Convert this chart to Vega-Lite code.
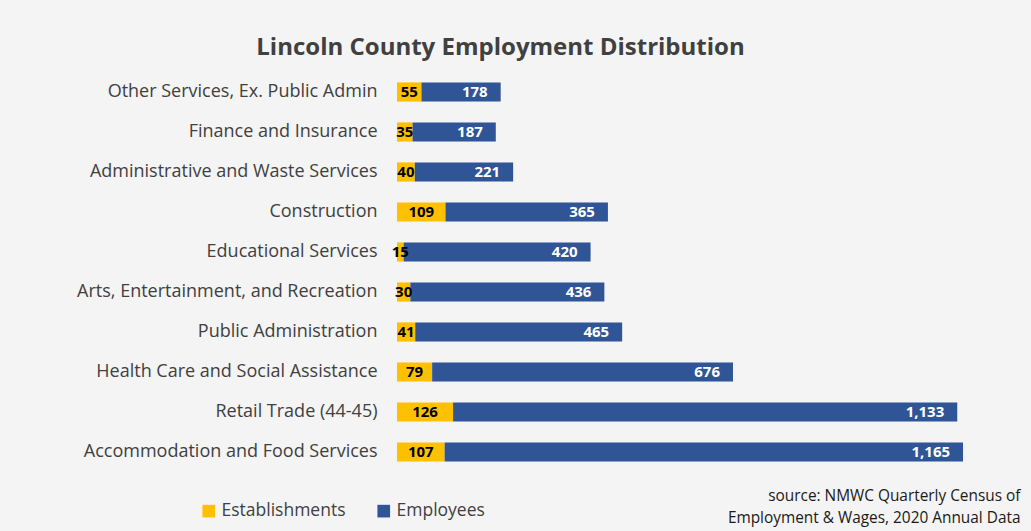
{
  "$schema": "https://vega.github.io/schema/vega-lite/v6.json",
  "autosize": {"type": "none"},
  "width": 623,
  "height": 400,
  "padding": {"left": 397, "top": 72, "right": 11, "bottom": 59},
  "background": "#f4f4f4",
  "title": {
    "text": "Lincoln County Employment Distribution",
    "font": "Open Sans",
    "fontSize": 24,
    "fontWeight": "bold",
    "color": "#404040",
    "anchor": "middle",
    "frame": "group",
    "dx": -208,
    "offset": 12
  },
  "config": {
    "view": {"stroke": null},
    "font": "Open Sans"
  },
  "data": {
    "values": [
      {"industry": "Other Services, Ex. Public Admin", "type": "Establishments", "ord": 0, "value": 55},
      {"industry": "Other Services, Ex. Public Admin", "type": "Employees", "ord": 1, "value": 178},
      {"industry": "Finance and Insurance", "type": "Establishments", "ord": 0, "value": 35},
      {"industry": "Finance and Insurance", "type": "Employees", "ord": 1, "value": 187},
      {"industry": "Administrative and Waste Services", "type": "Establishments", "ord": 0, "value": 40},
      {"industry": "Administrative and Waste Services", "type": "Employees", "ord": 1, "value": 221},
      {"industry": "Construction", "type": "Establishments", "ord": 0, "value": 109},
      {"industry": "Construction", "type": "Employees", "ord": 1, "value": 365},
      {"industry": "Educational Services", "type": "Establishments", "ord": 0, "value": 15},
      {"industry": "Educational Services", "type": "Employees", "ord": 1, "value": 420},
      {"industry": "Arts, Entertainment, and Recreation", "type": "Establishments", "ord": 0, "value": 30},
      {"industry": "Arts, Entertainment, and Recreation", "type": "Employees", "ord": 1, "value": 436},
      {"industry": "Public Administration", "type": "Establishments", "ord": 0, "value": 41},
      {"industry": "Public Administration", "type": "Employees", "ord": 1, "value": 465},
      {"industry": "Health Care and Social Assistance", "type": "Establishments", "ord": 0, "value": 79},
      {"industry": "Health Care and Social Assistance", "type": "Employees", "ord": 1, "value": 676},
      {"industry": "Retail Trade (44-45)", "type": "Establishments", "ord": 0, "value": 126},
      {"industry": "Retail Trade (44-45)", "type": "Employees", "ord": 1, "value": 1133},
      {"industry": "Accommodation and Food Services", "type": "Establishments", "ord": 0, "value": 107},
      {"industry": "Accommodation and Food Services", "type": "Employees", "ord": 1, "value": 1165}
    ]
  },
  "encoding": {
    "y": {
      "field": "industry",
      "type": "nominal",
      "sort": [
        "Other Services, Ex. Public Admin",
        "Finance and Insurance",
        "Administrative and Waste Services",
        "Construction",
        "Educational Services",
        "Arts, Entertainment, and Recreation",
        "Public Administration",
        "Health Care and Social Assistance",
        "Retail Trade (44-45)",
        "Accommodation and Food Services"
      ],
      "scale": {"paddingInner": 0.52, "paddingOuter": 0.26},
      "axis": {
        "title": null,
        "domain": false,
        "ticks": false,
        "labelPadding": 20,
        "labelFont": "Open Sans",
        "labelFontSize": 18,
        "labelColor": "#404040",
        "labelLimit": 400
      }
    }
  },
  "layer": [
    {
      "mark": {"type": "bar"},
      "encoding": {
        "x": {
          "field": "value",
          "type": "quantitative",
          "stack": "zero",
          "scale": {"domain": [0, 1400], "nice": false},
          "axis": {
            "domain": false,
            "ticks": false,
            "labels": false,
            "grid": false,
            "title": ["source: NMWC Quarterly Census of", "Employment & Wages, 2020 Annual Data"],
            "titleFont": "Open Sans",
            "titleFontSize": 15.4,
            "titleFontWeight": "normal",
            "titleColor": "#1a1a1a",
            "titleAlign": "right",
            "titleAnchor": "end",
            "titleBaseline": "top",
            "titleX": 623,
            "titleY": 16,
            "titleLineHeight": 22
          }
        },
        "color": {
          "field": "type",
          "type": "nominal",
          "scale": {"domain": ["Establishments", "Employees"], "range": ["#FFC000", "#2F5597"]},
          "legend": {
            "title": null,
            "orient": "none",
            "direction": "horizontal",
            "legendX": -197,
            "legendY": 430,
            "symbolType": "square",
            "symbolSize": 160,
            "symbolStrokeWidth": 0,
            "labelFont": "Open Sans",
            "labelFontSize": 17.5,
            "labelColor": "#404040",
            "columnPadding": 29,
            "labelOffset": 4
          }
        },
        "order": {"field": "ord", "type": "quantitative"}
      }
    },
    {
      "mark": {"type": "text", "align": "center", "baseline": "middle", "fontWeight": "bold", "fontSize": 15, "font": "Open Sans", "color": "#000000"},
      "encoding": {
        "x": {"field": "value", "type": "quantitative", "stack": "zero", "bandPosition": 0.5},
        "detail": {"field": "type"},
        "order": {"field": "ord", "type": "quantitative"},
        "text": {"condition": {"test": "datum.type === 'Establishments'", "field": "value", "type": "quantitative", "format": ","}, "value": ""}
      }
    },
    {
      "mark": {"type": "text", "align": "right", "baseline": "middle", "dx": -13, "fontWeight": "bold", "fontSize": 15, "font": "Open Sans", "color": "#ffffff"},
      "encoding": {
        "x": {"field": "value", "type": "quantitative", "stack": "zero"},
        "detail": {"field": "type"},
        "order": {"field": "ord", "type": "quantitative"},
        "text": {"condition": {"test": "datum.type === 'Employees'", "field": "value", "type": "quantitative", "format": ","}, "value": ""}
      }
    }
  ]
}
